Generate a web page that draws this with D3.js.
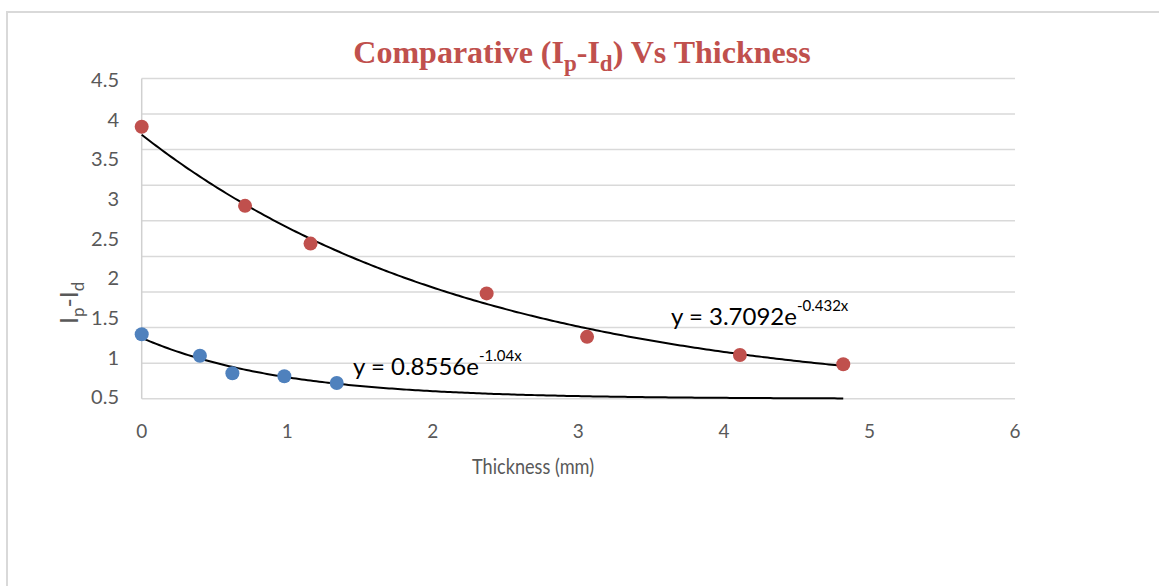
<!DOCTYPE html>
<html>
<head>
<meta charset="utf-8">
<script src="https://cdn.jsdelivr.net/npm/d3@7"></script>
<style>
  body { margin: 0; background: #fff; }
  svg text { font-family: Lato, "Open Sans", sans-serif; }
</style>
</head>
<body>
<div id="chart"></div>
<script>
// data
const redThickness = [0, 0.71, 1.16, 2.37, 3.06, 4.11, 4.82];
const redValues    = [3.82, 2.71, 2.18, 1.48, 0.87, 0.615, 0.485];
const blueThickness = [0, 0.40, 0.623, 0.98, 1.34];
const blueValues    = [0.906, 0.605, 0.358, 0.316, 0.222];

// fitted trendlines as printed on the chart: y = a * e^(b x)
const redFit  = {a: 3.7092, b: -0.432, text: "y = 3.7092e", sup: "-0.432x"};
const blueFit = {a: 0.8556, b: -1.04,  text: "y = 0.8556e", sup: "-1.04x"};
const trendExtent = [0, 4.82];

const xTicks = [0, 1, 2, 3, 4, 5, 6];
const yGrid = [0, 0.5, 1, 1.5, 2, 2.5, 3, 3.5, 4, 4.5];
const yTickLabels = ["0.5", "1", "1.5", "2", "2.5", "3", "3.5", "4", "4.5"];

const W = 1159, H = 586;
const svg = d3.select("#chart").append("svg")
    .attr("width", W)
    .attr("height", H);

// outer chart border (runs off right/bottom edge)
svg.append("rect")
    .attr("x", 7).attr("y", 12)
    .attr("width", W + 20).attr("height", H + 20)
    .attr("fill", "#fff")
    .attr("stroke", "#d9d9d9")
    .attr("stroke-width", 2);

const x = d3.scaleLinear().domain([0, 6]).range([141.7, 1015]);
const y = d3.scaleLinear().domain([0, 4.5]).range([398.8, 78.4]);
// the tick labels in the picture don't line up with the grid, keep them on their own scale
const yLab = d3.scalePoint().domain(yTickLabels).range([397, 80]);

// gridlines
svg.append("g")
  .selectAll("line")
  .data(yGrid)
  .join("line")
    .attr("x1", x(0)).attr("x2", x(6))
    .attr("y1", d => y(d)).attr("y2", d => y(d))
    .attr("stroke", "#d9d9d9")
    .attr("stroke-width", 1.5);

// vertical axis line
svg.append("line")
    .attr("x1", x(0)).attr("x2", x(0))
    .attr("y1", y(0)).attr("y2", y(4.5))
    .attr("stroke", "#d0d0d0")
    .attr("stroke-width", 1.5);

// y tick labels
svg.append("g")
  .selectAll("text")
  .data(yTickLabels)
  .join("text")
    .attr("x", 119)
    .attr("y", d => yLab(d))
    .attr("dy", "0.36em")
    .attr("text-anchor", "end")
    .attr("fill", "#595959")
    .style("font-size", "20px")
    .text(d => d);

// x tick labels
svg.append("g")
  .selectAll("text")
  .data(xTicks)
  .join("text")
    .attr("x", d => x(d))
    .attr("y", 438)
    .attr("text-anchor", "middle")
    .attr("fill", "#595959")
    .style("font-size", "19px")
    .text(d => d);

// x axis title
svg.append("text")
    .attr("x", 533)
    .attr("y", 474)
    .attr("text-anchor", "middle")
    .attr("fill", "#595959")
    .style("font-size", "22px")
    .attr("textLength", 122)
    .attr("lengthAdjust", "spacingAndGlyphs")
    .text("Thickness (mm)");

// y axis title  I_p - I_d
const yTitle = svg.append("text")
    .attr("transform", "translate(78,324) rotate(-90)")
    .attr("fill", "#595959")
    .style("font-size", "25px");
yTitle.append("tspan").text("I");
yTitle.append("tspan").attr("dy", 6).style("font-size", "17px").text("p");
yTitle.append("tspan").attr("dy", -6).text("-I");
yTitle.append("tspan").attr("dy", 6).style("font-size", "17px").text("d");

// chart title
const title = svg.append("text")
    .attr("x", 582)
    .attr("y", 63)
    .attr("text-anchor", "middle")
    .attr("fill", "#c0504d")
    .style("font-family", "'Liberation Serif', 'Times New Roman', serif")
    .style("font-weight", "bold")
    .style("font-size", "32px");
title.append("tspan").text("Comparative (I");
title.append("tspan").attr("dy", 8).style("font-size", "23px").text("p");
title.append("tspan").attr("dy", -8).text("-I");
title.append("tspan").attr("dy", 8).style("font-size", "23px").text("d");
title.append("tspan").attr("dy", -8).text(") Vs Thickness");

// trendlines
const line = d3.line().x(d => x(d[0])).y(d => y(d[1])).curve(d3.curveLinear);
[blueFit, redFit].forEach(f => {
  const pts = d3.range(trendExtent[0], trendExtent[1] + 0.001, 0.02)
      .map(t => [t, f.a * Math.exp(f.b * t)]);
  svg.append("path")
      .datum(pts)
      .attr("fill", "none")
      .attr("stroke", "#000")
      .attr("stroke-width", 2)
      .attr("d", line);
});

// points
svg.append("g")
  .selectAll("circle")
  .data(redThickness.map((t, i) => [t, redValues[i]]))
  .join("circle")
    .attr("cx", d => x(d[0]))
    .attr("cy", d => y(d[1]))
    .attr("r", 7)
    .attr("fill", "#c0504d");

svg.append("g")
  .selectAll("circle")
  .data(blueThickness.map((t, i) => [t, blueValues[i]]))
  .join("circle")
    .attr("cx", d => x(d[0]))
    .attr("cy", d => y(d[1]))
    .attr("r", 7)
    .attr("fill", "#4f81bd");

// equation labels
function equation(f, px, py) {
  const t = svg.append("text")
      .attr("x", px).attr("y", py)
      .attr("fill", "#000")
      .style("font-size", "24px");
  t.append("tspan").text(f.text);
  t.append("tspan").attr("dy", -14).style("font-size", "15px").text(f.sup);
}
equation(redFit, 671, 325);
equation(blueFit, 353, 375);
</script>
</body>
</html>
